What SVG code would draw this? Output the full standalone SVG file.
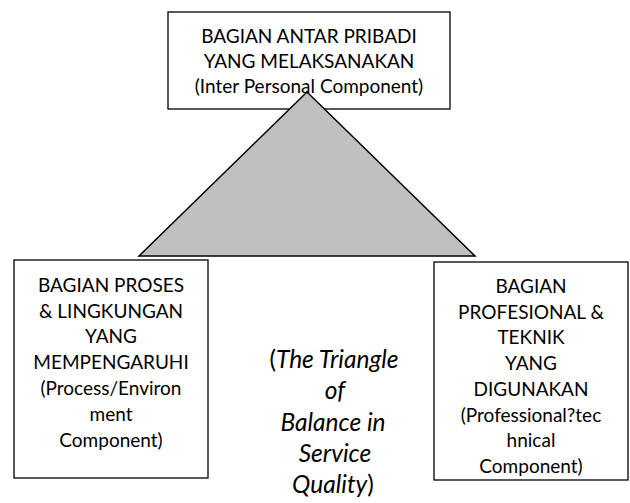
<svg xmlns="http://www.w3.org/2000/svg" width="630" height="503" viewBox="0 0 630 503">
<style>
.box{fill:#fff;stroke:#000;stroke-width:1.3}
.t{font-family:Lato,"Open Sans","Liberation Sans",sans-serif;font-size:19px;fill:#000;text-anchor:middle}
.c{font-size:24.5px}
.i{font-style:italic}
.tri{fill:#c0c0c0;stroke:#000;stroke-width:1.5;stroke-linejoin:miter}
</style>
<rect width="630" height="503" fill="#fff"/>
<g id="node-top">
<rect class="box" x="168" y="12" width="282" height="97"/>
<text class="t" x="309" y="43">BAGIAN ANTAR PRIBADI</text>
<text class="t" x="309" y="68">YANG MELAKSANAKAN</text>
<text class="t" x="309" y="93">(Inter Personal Component)</text>
</g>
<g id="connectors">
<polygon class="tri" points="307,92 139,256 475,256"/>
</g>
<g id="node-left">
<rect class="box" x="14" y="260" width="194" height="218"/>
<text class="t" x="111" y="292">BAGIAN PROSES</text>
<text class="t" x="111" y="318">&amp; LINGKUNGAN</text>
<text class="t" x="111" y="343">YANG</text>
<text class="t" x="111" y="369">MEMPENGARUHI</text>
<text class="t" x="111" y="395">(Process/Environ</text>
<text class="t" x="111" y="421">ment</text>
<text class="t" x="111" y="447">Component)</text>
</g>
<g id="node-right">
<rect class="box" x="434" y="262" width="194" height="218"/>
<text class="t" x="531" y="293">BAGIAN</text>
<text class="t" x="531" y="319">PROFESIONAL &amp;</text>
<text class="t" x="531" y="344">TEKNIK</text>
<text class="t" x="531" y="370">YANG</text>
<text class="t" x="531" y="396">DIGUNAKAN</text>
<text class="t" x="531" y="422">(Professional?tec</text>
<text class="t" x="531" y="447">hnical</text>
<text class="t" x="531" y="473">Component)</text>
</g>
<g id="caption">
<text class="t c" x="334" y="368">(<tspan class="i">The Triangle</tspan></text>
<text class="t c i" x="335" y="399">of</text>
<text class="t c i" x="333" y="431">Balance in</text>
<text class="t c i" x="335" y="462">Service</text>
<text class="t c" x="333" y="493"><tspan class="i">Quality</tspan>)</text>
</g>
</svg>
